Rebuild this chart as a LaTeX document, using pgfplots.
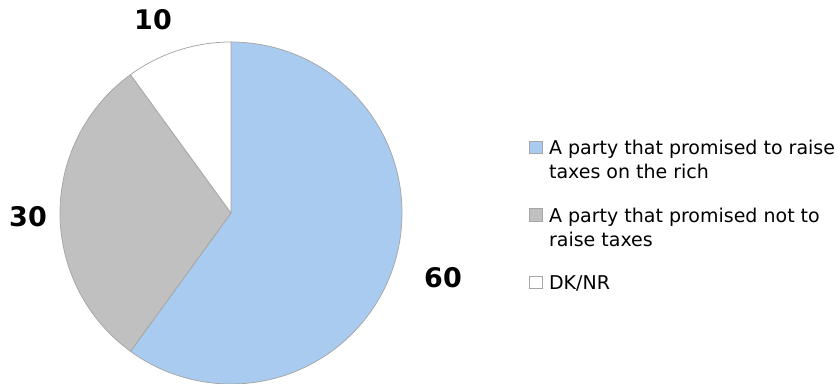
\documentclass[border=0pt]{standalone}
\usepackage{fontspec}
\setmainfont{DejaVu Sans}
\newfontfamily\labelfont{DejaVu Sans}
\usepackage{pgfplots}
\usepackage{pgfplotstable}
\pgfplotsset{compat=1.18}
\definecolor{pieblue}{HTML}{A9CBF0}
\definecolor{piegray}{HTML}{C0C0C0}
\definecolor{pieedge}{HTML}{A6A6A6}
\pgfplotstableread{
name value lx ly
Rich 60 443 106
NoTax 30 28 167
DK 10 153 364
}\piedata
\pgfplotstablegetelem{0}{value}\of\piedata \let\vA\pgfplotsretval
\pgfplotstablegetelem{1}{value}\of\piedata \let\vB\pgfplotsretval
\pgfplotstablegetelem{2}{value}\of\piedata \let\vC\pgfplotsretval
\pgfplotstablegetelem{0}{lx}\of\piedata \let\lxA\pgfplotsretval
\pgfplotstablegetelem{1}{lx}\of\piedata \let\lxB\pgfplotsretval
\pgfplotstablegetelem{2}{lx}\of\piedata \let\lxC\pgfplotsretval
\pgfplotstablegetelem{0}{ly}\of\piedata \let\lyA\pgfplotsretval
\pgfplotstablegetelem{1}{ly}\of\piedata \let\lyB\pgfplotsretval
\pgfplotstablegetelem{2}{ly}\of\piedata \let\lyC\pgfplotsretval
\pgfmathsetmacro\aA{90-3.6*\vA}
\pgfmathsetmacro\aB{\aA-3.6*\vB}
\pgfmathsetmacro\aC{\aB-3.6*\vC}
\newcommand\twoline[2]{\begin{tabular}[t]{@{}l@{}}#1\\#2\end{tabular}}
\newcommand\oneline[1]{\begin{tabular}[t]{@{}l@{}}#1\end{tabular}}
\begin{document}
\begin{tikzpicture}
\path[use as bounding box] (0,0) rectangle (838bp,384bp);
\begin{axis}[
  at={(0,0)}, anchor=south west,
  width=838bp, height=384bp, scale only axis,
  xmin=0, xmax=838, ymin=0, ymax=384,
  hide axis, clip=false,
  legend cell align=left,
  legend image code/.code={\filldraw[#1, draw=pieedge, line width=0.6bp] (0bp,1bp) rectangle (12.5bp,13.5bp);},
  legend style={at={(axis cs:529,246)}, anchor=north west, draw=none, fill=none,
    inner sep=0pt, outer sep=0pt,
    font=\fontsize{19bp}{24bp}\selectfont, row sep=49bp,
    cells={anchor=base west},
    /tikz/every odd column/.append style={column sep=7bp},
    nodes={inner sep=0pt, outer sep=0pt}},
]
\addlegendimage{fill=pieblue}
\addlegendentry{\twoline{A party that promised to raise}{taxes on the rich}}
\addlegendimage{fill=piegray}
\addlegendentry{\twoline{A party that promised not to}{raise taxes}}
\addlegendimage{fill=white}
\addlegendentry{\oneline{DK/NR}}
\filldraw[fill=pieblue, draw=pieedge, line width=0.75bp] (axis cs:231,171) -- ++(90:171bp) arc[start angle=90, end angle=\aA, radius=171bp] -- cycle;
\filldraw[fill=piegray, draw=pieedge, line width=0.75bp] (axis cs:231,171) -- ++(\aA:171bp) arc[start angle=\aA, end angle=\aB, radius=171bp] -- cycle;
\filldraw[fill=white, draw=pieedge, line width=0.75bp] (axis cs:231,171) -- ++(\aB:171bp) arc[start angle=\aB, end angle=\aC, radius=171bp] -- cycle;
\node[font=\labelfont\fontsize{27bp}{30bp}\selectfont\bfseries] at (axis cs:\lxA,\lyA) {\vA};
\node[font=\labelfont\fontsize{27bp}{30bp}\selectfont\bfseries] at (axis cs:\lxB,\lyB) {\vB};
\node[font=\labelfont\fontsize{27bp}{30bp}\selectfont\bfseries] at (axis cs:\lxC,\lyC) {\vC};
\end{axis}
\end{tikzpicture}
\end{document}
